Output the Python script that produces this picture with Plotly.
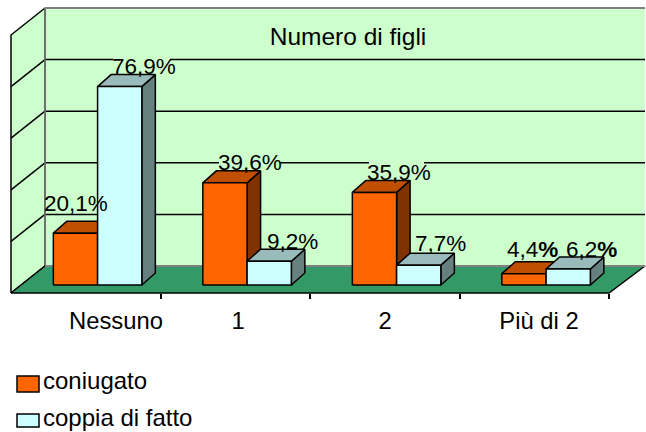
import plotly.graph_objects as go

categories = ["Nessuno", "1", "2", "Più di 2"]
coniugato = [20.1, 39.6, 35.9, 4.4]
coppia = [76.9, 9.2, 7.7, 6.2]
coniugato_labels = ["20,1%", "39,6%", "35,9%", "4,4<b>%</b>"]
coppia_labels = ["76,9%", "9,2%", "7,7%", "6,2<b>%</b>"]
grid_values = [20, 40, 60, 80, 100]

W, H = 646, 432
X0, Y0 = 11, 293          # front-left floor corner (px)
CAT_PX, VAL_PX = 149.5, 2.58
WALL_DX, WALL_DY = 34, 27
FLOOR_RIGHT_BACK = 645
BAR_BASE_DX, BAR_BASE_DY = 10.2, 8
BAR_DX, BAR_DY = 13.5, 12
BAR_START, BAR_W = 0.215, 0.296

ORANGE, ORANGE_TOP, ORANGE_SIDE = "#FF6600", "#C05000", "#803300"
CYAN, CYAN_TOP, CYAN_SIDE = "#CCFFFF", "#99BBBB", "#668080"
WALL, FLOOR = "#CCFFCC", "#339966"
GRAY = "#808080"


def P(cat, val, dx=0.0, dy=0.0):
    """category / value + depth offset in px -> data coords"""
    return cat + dx / CAT_PX, val + dy / VAL_PX


fig = go.Figure()


def poly(points, fill, line="black", lw=1.5):
    xs = [p[0] for p in points] + [points[0][0]]
    ys = [p[1] for p in points] + [points[0][1]]
    fig.add_trace(go.Scatter(x=xs, y=ys, mode="lines", fill="toself", fillcolor=fill,
                             line=dict(color=line, width=lw), showlegend=False, hoverinfo="skip"))


def seg(xs, ys, color="black", lw=1.5):
    fig.add_trace(go.Scatter(x=xs, y=ys, mode="lines", line=dict(color=color, width=lw),
                             showlegend=False, hoverinfo="skip"))


ncat = len(categories)
right = (FLOOR_RIGHT_BACK - WALL_DX - X0) / CAT_PX
top = grid_values[-1]
# walls
poly([P(0, 0, WALL_DX, WALL_DY), P(right, 0, WALL_DX, WALL_DY), P(right, top, WALL_DX, WALL_DY),
      P(0, top, WALL_DX, WALL_DY)], WALL, line=WALL, lw=0)
poly([P(0, 0), P(0, 0, WALL_DX, WALL_DY), P(0, top, WALL_DX, WALL_DY), P(0, top)], WALL)

# grid lines (gaps where a data label sits on the line)
gaps = {80: [(113, 170)], 40: [(219, 280), (369, 424)]}
for v in grid_values[:-1]:
    a, b = P(0, v), P(0, v, WALL_DX, WALL_DY)
    seg([a[0], b[0]], [a[1], b[1]])
    xs, ys = [b[0]], [b[1]]
    for g0, g1 in gaps.get(v, []):
        xs += [(g0 - X0) / CAT_PX, None, (g1 - X0) / CAT_PX]
        ys += [b[1], None, b[1]]
    xs.append(P(right, 0, WALL_DX)[0])
    ys.append(b[1])
    seg(xs, ys)
# wall edges in grey
a = P(0, top, WALL_DX, WALL_DY)
seg([a[0], P(right, 0, WALL_DX)[0]], [a[1], a[1]], GRAY, 2)
a0 = P(0, 0, WALL_DX, WALL_DY)
seg([a0[0], a0[0]], [a0[1], a[1]], GRAY, 1.5)

# floor
poly([P(0, 0), P(0, 0, WALL_DX, WALL_DY), P(right, 0, WALL_DX, WALL_DY), P(ncat, 0)], FLOOR, lw=1.5)
seg([a0[0], P(right, 0, WALL_DX)[0]], [a0[1], a0[1]], GRAY, 2)


def bar(cat, k, value, front, topc, side):
    l = cat + BAR_START + k * BAR_W
    r = l + BAR_W
    bx, by = BAR_BASE_DX, BAR_BASE_DY
    ex, ey = bx + BAR_DX, by + BAR_DY
    poly([P(r, 0, bx, by), P(r, 0, ex, ey), P(r, value, ex, ey), P(r, value, bx, by)], side)
    poly([P(l, value, bx, by), P(r, value, bx, by), P(r, value, ex, ey), P(l, value, ex, ey)], topc)
    poly([P(l, 0, bx, by), P(r, 0, bx, by), P(r, value, bx, by), P(l, value, bx, by)], front)


for i in range(ncat):
    bar(i, 0, coniugato[i], ORANGE, ORANGE_TOP, ORANGE_SIDE)
    bar(i, 1, coppia[i], CYAN, CYAN_TOP, CYAN_SIDE)

# data labels
off_con = [(1, -30), (25, -20), (25, -19.6), (9, -24.6)]
off_cop = [(24.5, -20), (23, -20), (21.5, -22), (23, -20)]
font = "Liberation Sans, Arial, sans-serif"
FS = 22.5
for k, (vals, labs, offs) in enumerate([(coniugato, coniugato_labels, off_con),
                                        (coppia, coppia_labels, off_cop)]):
    for i, (v, t, o) in enumerate(zip(vals, labs, offs)):
        x, y = P(i + BAR_START + (k + 0.5) * BAR_W, v, BAR_BASE_DX, BAR_BASE_DY)
        fig.add_annotation(x=x, y=y, text=t, showarrow=False, xshift=o[0], yshift=-o[1],
                           font=dict(family=font, size=FS, color="black"))

# legend
legend = [("coniugato", ORANGE, 376, 392, 380.5), ("coppia di fatto", CYAN, 414, 427, 417)]
for name, col, y0, y1, yt in legend:
    fig.add_shape(type="rect", xref="paper", yref="paper", x0=17 / W, x1=39 / W,
                  y0=1 - y1 / H, y1=1 - y0 / H, fillcolor=col, line=dict(color="black", width=1.5))
    fig.add_annotation(xref="paper", yref="paper", x=41 / W, y=1 - yt / H, xanchor="left",
                       yanchor="middle", text=name, showarrow=False,
                       font=dict(family=font, size=24, color="black"))

label_px = [116, 238, 385, 539]
fig.update_layout(
    width=W, height=H, margin=dict(l=0, r=0, t=0, b=0), autosize=False,
    paper_bgcolor="white", plot_bgcolor="white",
    title=dict(text="Numero di figli", x=348 / W, xref="paper", xanchor="center",
               y=1 - 36 / H, yref="paper", yanchor="middle",
               font=dict(family=font, size=24.5, color="black")),
    font=dict(family=font, size=23.8, color="black"),
    xaxis=dict(range=[-X0 / CAT_PX, (W - X0) / CAT_PX], anchor="free", position=(H - Y0) / H,
               tickmode="array", tickvals=[(p - X0) / CAT_PX for p in label_px], ticktext=categories,
               ticks="", showgrid=False, zeroline=False, showline=False, ticklabelstandoff=11,
               minor=dict(tickmode="array", tickvals=list(range(1, ncat + 1)), ticks="outside",
                          ticklen=5, tickcolor="black", tickwidth=1.5, showgrid=False)),
    yaxis=dict(range=[(Y0 - H) / VAL_PX, Y0 / VAL_PX], visible=False, showgrid=False, zeroline=False),
    showlegend=False,
)
fig.write_html("out.html", config=dict(displayModeBar=False),
               post_script="document.body.style.margin='0';document.body.style.overflow='hidden';")
